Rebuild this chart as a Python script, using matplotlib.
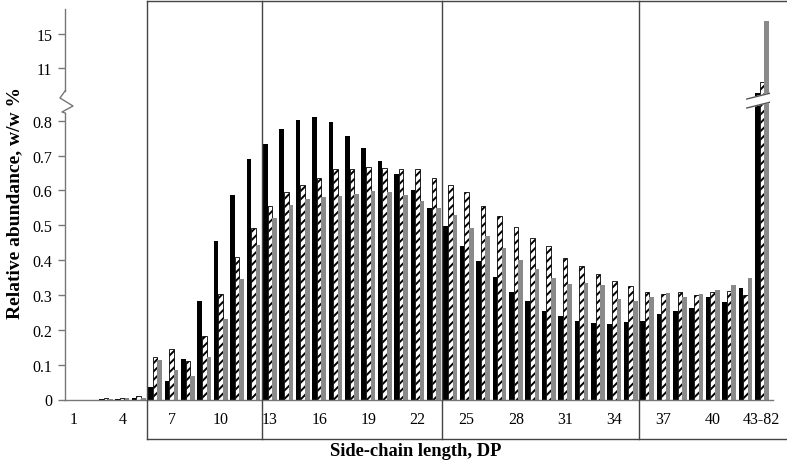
import numpy as np
import matplotlib
matplotlib.use("Agg")
import matplotlib.pyplot as plt

plt.rcParams['font.family'] = ['Liberation Serif', 'DejaVu Serif']
plt.rcParams['hatch.linewidth'] = 1.4

etiquetas_dp = [str(i) for i in range(1, 43)] + ["43-82"]

serie_negra = [0, 0, 0.002, 0.002, 0.003, 0.035, 0.053, 0.115, 0.284, 0.454, 0.587, 0.690,
               0.733, 0.775, 0.801, 0.811, 0.796, 0.756, 0.723, 0.684, 0.646, 0.601, 0.549,
               0.497, 0.441, 0.396, 0.351, 0.309, 0.282, 0.255, 0.240, 0.225, 0.219, 0.216,
               0.223, 0.226, 0.245, 0.254, 0.263, 0.293, 0.281, 0.321, 8.1]
serie_rayada = [0, 0, 0.003, 0.004, 0.009, 0.121, 0.146, 0.110, 0.182, 0.302, 0.409, 0.491,
                0.554, 0.594, 0.615, 0.637, 0.660, 0.660, 0.666, 0.664, 0.661, 0.661, 0.636,
                0.615, 0.594, 0.556, 0.526, 0.494, 0.463, 0.440, 0.406, 0.384, 0.359, 0.341,
                0.325, 0.308, 0.303, 0.309, 0.301, 0.308, 0.312, 0.301, 9.4]
serie_gris = [0, 0, 0.002, 0.003, 0.005, 0.114, 0.086, 0.066, 0.121, 0.230, 0.347, 0.442,
              0.520, 0.558, 0.575, 0.582, 0.584, 0.590, 0.599, 0.594, 0.586, 0.570, 0.549,
              0.529, 0.491, 0.468, 0.434, 0.399, 0.374, 0.349, 0.331, 0.334, 0.329, 0.288,
              0.282, 0.293, 0.305, 0.295, 0.304, 0.315, 0.328, 0.350, 16.4]

ticks_inferiores = [0, 0.1, 0.2, 0.3, 0.4, 0.5, 0.6, 0.7, 0.8]
ticks_superiores = [11, 15]
cortes_caja = [5.5, 12.5, 23.5, 35.5]


# eje y partido: abajo escala normal, arriba comprimida
def escala(v):
  if v <= 0.85:
    return v
  return 0.9503 + (v - 11) * 0.02488


def px_a_y(py):
  return (400.5 - py) / 348.5


def px_a_x(px):
  return (px - 65) / 16.4 + 0.5


fig = plt.figure(figsize=(7.87, 4.64), dpi=100)
ax = fig.add_axes([65 / 787, 63.5 / 464, 705 / 787, 390.5 / 464])

x = np.arange(1, len(etiquetas_dp) + 1)
ancho = 0.28
ax.bar(x - ancho, [escala(v) for v in serie_negra], ancho, color="black", linewidth=0)
ax.bar(x, [escala(v) for v in serie_rayada], ancho, color="white", edgecolor="black",
       hatch="////", linewidth=0.6)
ax.bar(x + ancho, [escala(v) for v in serie_gris], ancho, color="#8a8a8a", linewidth=0)

ax.set_xlim(0.5, 43.5)
ax.set_ylim(0, px_a_y(10))

for s in ax.spines.values():
  s.set_visible(False)

# linea base
ax.plot([0.5, px_a_x(773)], [0, 0], color="#777777", linewidth=1, clip_on=False)

# eje y con corte
gris_eje = "#777777"
ax.plot([0.5, 0.5], [0, px_a_y(114)], color=gris_eje, linewidth=1, clip_on=False)
ax.plot([0.5, 0.5], [px_a_y(92), px_a_y(10)], color=gris_eje, linewidth=1, clip_on=False)
ax.plot([0.5, px_a_x(60), px_a_x(73), px_a_x(62), 0.5],
        [px_a_y(92), px_a_y(99), px_a_y(107), px_a_y(113), px_a_y(114)],
        color=gris_eje, linewidth=1, clip_on=False)

ax.set_yticks([escala(v) for v in ticks_inferiores + ticks_superiores])
ax.set_yticklabels([str(v) for v in ticks_inferiores] + [str(v) for v in ticks_superiores])
ax.tick_params(axis="y", length=5, width=1, color=gris_eje, pad=4, labelsize=11.5)
ax.set_xticks(x[::3])
ax.set_xticklabels(etiquetas_dp[::3])
ax.tick_params(axis="x", length=0, pad=8, labelsize=11.5)

# corte en la ultima barra
bx = [px_a_x(747), px_a_x(775), px_a_x(775), px_a_x(747)]
by = [px_a_y(100), px_a_y(93), px_a_y(102), px_a_y(109)]
ax.fill(bx, by, color="white", zorder=5)
ax.plot(bx[:2], by[:2], color="#555555", linewidth=1, zorder=6)
ax.plot(bx[3:1:-1], by[3:1:-1], color="#555555", linewidth=1, zorder=6)

# cajas de las fracciones
y_abajo = px_a_y(440)
y_arriba = px_a_y(2)
ax.plot([cortes_caja[0], 46], [y_arriba, y_arriba], color="#444444", linewidth=1, clip_on=False)
ax.plot([cortes_caja[0], 46], [y_abajo, y_abajo], color="#444444", linewidth=1, clip_on=False)
for c in cortes_caja:
  ax.plot([c, c], [y_abajo, y_arriba], color="#444444", linewidth=1, clip_on=False)

fig.text(15 / 787, 1 - 203 / 464, "Relative abundance, w/w %", rotation=90, ha="center",
         va="center", fontsize=14, fontweight="bold")
fig.text(416 / 787, 1 - 452 / 464, "Side-chain length, DP", ha="center", va="center",
         fontsize=13.3, fontweight="bold")

plt.savefig("out.png", dpi=100)
plt.close()
